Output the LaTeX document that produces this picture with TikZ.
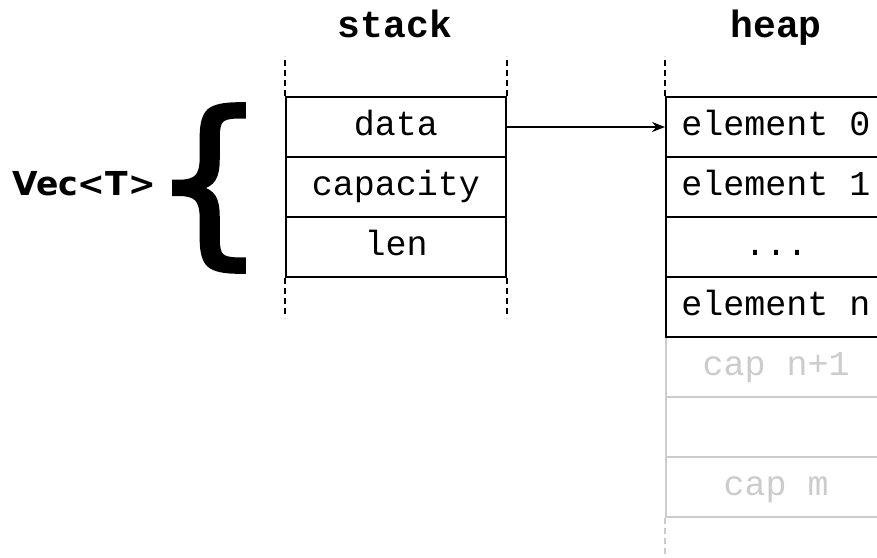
\documentclass[tikz,border=0pt]{standalone}
\usepackage{fontspec}
\setmonofont{Liberation Mono}
\newfontfamily\bracefont[FakeBold=2]{DejaVu Sans}
\newfontfamily\vecfont{DejaVu Sans}
\usetikzlibrary{arrows.meta}
\definecolor{lightgr}{HTML}{CCCCCC}
\begin{document}
\begin{tikzpicture}[x=1pt,y=-1pt,
  cell/.style={draw=black, line width=2pt, minimum width=220pt, minimum height=60pt,
    inner sep=0pt, text height=24pt, text depth=7pt, anchor=north west,
    font=\ttfamily\fontsize{35}{40}\selectfont},
  ghost/.style={cell, draw=lightgr, text=lightgr},
  hdr/.style={anchor=base, font=\ttfamily\bfseries\fontsize{38}{40}\selectfont},
  dashline/.style={line width=2pt, dash pattern=on 6pt off 4pt},
  link/.style={line width=1.6pt, -{Stealth[length=13pt,width=10pt]}}]
\useasboundingbox (0,0) rectangle (877,557);
% headers
\node[hdr] (stackhdr) at (395,37) {stack};
\node[hdr] (heaphdr) at (776,37) {heap};
% stack cells
\node[cell] (data) at (285,96) {data};
\node[cell] (cap) at (285,156) {capacity};
\node[cell] (len) at (285,216) {len};
% heap ghost cells
\node[ghost] (g1) at (665,336) {cap n+1};
\node[ghost] (g2) at (665,396) {};
\node[ghost] (g3) at (665,456) {cap m};
% heap cells
\node[cell] (e0) at (665,96) {element 0};
\node[cell] (e1) at (665,156) {element 1};
\node[cell] (edots) at (665,216) {...};
\node[cell] (en) at (665,276) {element n};
% dashed guides
\draw[dashline] (data.north west) -- ++(0,-40);
\draw[dashline] (data.north east) -- ++(0,-40);
\draw[dashline] (len.south west) -- ++(0,40);
\draw[dashline] (len.south east) -- ++(0,40);
\draw[dashline] (e0.north west) -- ++(0,-40);
\draw[dashline, draw=lightgr] (g3.south west) -- ++(0,42);
% pointer
\draw[link] (data.east) -- (e0.west);
% Vec<T> label and brace
\node[anchor=base, inner sep=0pt, font=\vecfont\bfseries\fontsize{33}{33}\selectfont] (vec) at (84,195) {Vec<T>};
\node[inner sep=0pt, font=\bracefont\fontsize{182}{182}\selectfont] (brace) at (209,188) {\{};
\end{tikzpicture}
\end{document}
